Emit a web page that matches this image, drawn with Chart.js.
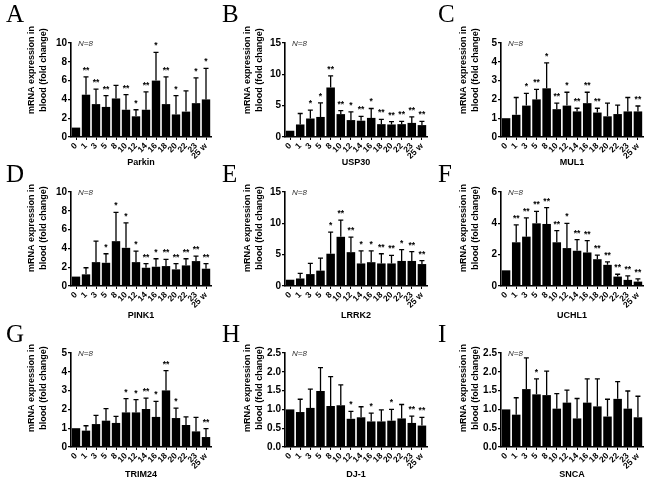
<!DOCTYPE html>
<html>
<head>
<meta charset="utf-8">
<script src="https://cdn.jsdelivr.net/npm/chart.js@4.4.0/dist/chart.umd.min.js"></script>
<style>
  body { margin: 0; background: #fff; width: 648px; height: 480px; position: relative; overflow: hidden; }
  canvas { position: absolute; }
</style>
</head>
<body>
<script>
// weeks after treatment
const weeks = ['0', '1', '3', '5', '8', '10', '12', '14', '16', '18', '20', '22', '23', '25 w'];

const parkinMean  = [1.0, 4.5, 3.5, 3.2, 4.1, 2.9, 2.2, 2.9, 6.0, 3.5, 2.4, 2.7, 3.6, 4.0];
const parkinSd    = [0, 1.9, 1.6, 1.2, 1.4, 1.6, 0.7, 1.9, 3.0, 2.9, 2.0, 2.2, 2.7, 3.3];
const parkinStars = ['', '**', '**', '**', '', '**', '*', '**', '*', '**', '*', '', '*', '*'];

const usp30Mean  = [1.0, 2.0, 2.95, 3.2, 7.9, 3.65, 2.7, 2.6, 3.05, 2.05, 2.0, 2.05, 2.25, 1.9];
const usp30Sd    = [0, 1.75, 1.35, 2.25, 1.85, 0.55, 1.3, 0.7, 1.5, 0.75, 0.45, 0.45, 0.95, 0.6];
const usp30Stars = ['', '', '*', '*', '**', '**', '*', '**', '*', '**', '**', '**', '**', '**'];

const mul1Mean  = [1.0, 1.18, 1.67, 2.0, 2.59, 1.48, 1.67, 1.36, 1.8, 1.3, 1.1, 1.22, 1.36, 1.36];
const mul1Sd    = [0, 0.92, 0.65, 0.53, 1.35, 0.32, 0.71, 0.17, 0.58, 0.23, 0.7, 0.48, 0.74, 0.29];
const mul1Stars = ['', '', '*', '**', '*', '**', '*', '**', '**', '**', '', '', '', '**'];

const pink1Mean  = [1.0, 1.24, 2.54, 2.47, 4.77, 4.06, 2.54, 1.94, 2.05, 2.12, 1.77, 2.19, 2.65, 1.84];
const pink1Sd    = [0, 0.7, 2.23, 0.96, 3.07, 2.65, 1.17, 0.43, 0.85, 0.71, 0.6, 0.71, 0.53, 0.53];
const pink1Stars = ['', '', '', '*', '*', '*', '*', '**', '*', '**', '**', '**', '**', '**'];

const lrrk2Mean  = [1.0, 1.2, 1.9, 2.45, 5.15, 7.85, 5.4, 3.6, 3.8, 3.6, 3.6, 4.0, 4.0, 3.5];
const lrrk2Sd    = [0, 0.8, 1.7, 2.0, 3.45, 2.65, 2.4, 2.0, 1.8, 1.55, 1.3, 1.8, 1.5, 0.55];
const lrrk2Stars = ['', '', '', '', '*', '**', '**', '*', '*', '**', '**', '*', '**', '**'];

const uchl1Mean  = [1.0, 2.79, 3.15, 4.0, 3.96, 2.79, 2.42, 2.25, 2.14, 1.71, 1.35, 0.6, 0.39, 0.28];
const uchl1Sd    = [0, 1.11, 1.2, 0.76, 1.04, 0.75, 1.58, 0.71, 0.76, 0.26, 0.19, 0.15, 0.25, 0.17];
const uchl1Stars = ['', '**', '**', '**', '**', '**', '*', '**', '**', '**', '**', '**', '**', '**'];

const trim24Mean  = [1.0, 0.87, 1.22, 1.4, 1.28, 1.84, 1.84, 2.02, 1.6, 3.01, 1.54, 1.17, 0.83, 0.53];
const trim24Sd    = [0, 0.26, 0.46, 0.64, 0.35, 0.73, 0.68, 0.58, 0.83, 1.05, 0.53, 0.43, 0.75, 0.45];
const trim24Stars = ['', '', '', '', '', '*', '*', '**', '*', '**', '*', '', '', '**'];

const dj1Mean  = [1.0, 0.93, 1.04, 1.49, 1.09, 1.11, 0.75, 0.79, 0.68, 0.68, 0.7, 0.76, 0.64, 0.57];
const dj1Sd    = [0, 0.34, 0.5, 0.62, 0.78, 0.54, 0.2, 0.28, 0.22, 0.31, 0.3, 0.37, 0.18, 0.22];
const dj1Stars = ['', '', '', '', '', '', '*', '', '*', '', '*', '', '**', '**'];

const sncaMean  = [1.0, 0.86, 1.54, 1.4, 1.38, 1.02, 1.18, 0.76, 1.18, 1.08, 0.81, 1.28, 1.02, 0.79];
const sncaSd    = [0, 0.45, 0.83, 0.41, 0.64, 0.4, 0.33, 0.53, 0.63, 0.73, 0.46, 0.46, 0.47, 0.56];
const sncaStars = ['', '', '', '*', '', '', '', '', '', '', '', '', '', ''];

const panels = [
  { letter: 'A', gene: 'Parkin', mean: parkinMean, sd: parkinSd, stars: parkinStars, max: 10, step: 2 },
  { letter: 'B', gene: 'USP30',  mean: usp30Mean,  sd: usp30Sd,  stars: usp30Stars,  max: 15, step: 5 },
  { letter: 'C', gene: 'MUL1',   mean: mul1Mean,   sd: mul1Sd,   stars: mul1Stars,   max: 5,  step: 1 },
  { letter: 'D', gene: 'PINK1',  mean: pink1Mean,  sd: pink1Sd,  stars: pink1Stars,  max: 10, step: 2 },
  { letter: 'E', gene: 'LRRK2',  mean: lrrk2Mean,  sd: lrrk2Sd,  stars: lrrk2Stars,  max: 15, step: 5 },
  { letter: 'F', gene: 'UCHL1',  mean: uchl1Mean,  sd: uchl1Sd,  stars: uchl1Stars,  max: 6,  step: 2 },
  { letter: 'G', gene: 'TRIM24', mean: trim24Mean, sd: trim24Sd, stars: trim24Stars, max: 5,  step: 1 },
  { letter: 'H', gene: 'DJ-1',   mean: dj1Mean,    sd: dj1Sd,    stars: dj1Stars,    max: 2.5, step: 0.5 },
  { letter: 'I', gene: 'SNCA',   mean: sncaMean,   sd: sncaSd,   stars: sncaStars,   max: 2.5, step: 0.5 }
];

// page layout (pixels)
const colLeft = [0, 216, 432];
const plotLeft = [71, 69, 69];
const rows = [
  { top: 0,   h: 180, plotTop: 43,  plotBottom: 137, geneY: 163, titleY: 70 },
  { top: 160, h: 180, plotTop: 192, plotBottom: 286, geneY: 316, titleY: 228 },
  { top: 320, h: 160, plotTop: 353, plotBottom: 447, geneY: 475, titleY: 388 }
];

Chart.defaults.font.family = '"Liberation Sans", Arial, sans-serif';
Chart.defaults.color = '#000';

const extras = {
  id: 'extras',
  afterDatasetsDraw(chart, args, o) {
    const p = o.panel, ctx = chart.ctx;
    const xs = chart.scales.x, ys = chart.scales.y;
    ctx.save();
    ctx.strokeStyle = '#000';
    ctx.lineWidth = 1.3;
    p.mean.forEach((m, i) => {
      if (!p.sd[i]) return;
      const cx = xs.getPixelForValue(i);
      const y0 = ys.getPixelForValue(m), y1 = ys.getPixelForValue(m + p.sd[i]);
      ctx.beginPath();
      ctx.moveTo(cx, y0); ctx.lineTo(cx, y1);
      ctx.moveTo(cx - 2.5, y1); ctx.lineTo(cx + 2.5, y1);
      ctx.stroke();
    });
    // significance marks
    ctx.fillStyle = '#000';
    ctx.font = 'bold 8.5px "Liberation Sans"';
    ctx.textAlign = 'center';
    ctx.textBaseline = 'alphabetic';
    p.stars.forEach((s, i) => {
      if (!s) return;
      const cx = xs.getPixelForValue(i);
      const yt = ys.getPixelForValue(p.mean[i] + p.sd[i]);
      ctx.fillText(s, cx, yt - 4);
    });
    ctx.restore();
  },
  afterDraw(chart, args, o) {
    const ctx = chart.ctx, a = chart.chartArea;
    ctx.save();
    ctx.fillStyle = '#000';
    // panel letter
    ctx.font = '25px "Liberation Serif"';
    ctx.textAlign = 'left';
    ctx.textBaseline = 'alphabetic';
    ctx.fillText(o.panel.letter, 6, 22);
    // N=8
    ctx.font = 'italic 8px "Liberation Sans"';
    ctx.fillStyle = '#333';
    ctx.textBaseline = 'middle';
    ctx.fillText('N=8', a.left + 7, a.top + 1);
    // y axis title, two lines
    ctx.fillStyle = '#000';
    ctx.font = 'bold 9px "Liberation Sans"';
    ctx.textAlign = 'center';
    ['mRNA expression in', 'blood (fold change)'].forEach((t, k) => {
      ctx.save();
      ctx.translate(32 + k * 11.5, o.titleY);
      ctx.rotate(-Math.PI / 2);
      ctx.fillText(t, 0, 0);
      ctx.restore();
    });
    ctx.restore();
  }
};

panels.forEach((p, idx) => {
  const col = idx % 3, row = rows[Math.floor(idx / 3)];
  const cv = document.createElement('canvas');
  cv.width = 216; cv.height = row.h;
  cv.style.left = colLeft[col] + 'px';
  cv.style.top = row.top + 'px';
  document.body.appendChild(cv);

  const xHeight = row.h - (row.plotBottom - row.top);
  const geneLine = 9 * 1.2;
  const genePad = Math.max(0, row.h - (row.geneY - row.top) - geneLine / 2);

  new Chart(cv, {
    type: 'bar',
    data: {
      labels: weeks,
      datasets: [{
        data: p.mean,
        backgroundColor: '#000',
        borderWidth: 0,
        barPercentage: 0.84,
        categoryPercentage: 1.0
      }]
    },
    options: {
      responsive: false,
      animation: false,
      layout: { padding: { top: row.plotTop - row.top, right: 5, left: 0, bottom: 0 } },
      plugins: {
        legend: { display: false },
        tooltip: { enabled: false },
        extras: { panel: p, titleY: row.titleY - row.top }
      },
      scales: {
        x: {
          grid: { display: true, drawOnChartArea: false, offset: false, color: '#000', lineWidth: 1, tickLength: 3 },
          border: { color: '#000', width: 1.6 },
          ticks: { font: { size: 8.5, weight: 'bold' }, minRotation: 45, maxRotation: 45, padding: 1, autoSkip: false },
          title: { display: true, text: p.gene, font: { size: 9, weight: 'bold' }, padding: { top: 0, bottom: genePad } },
          afterFit: s => { s.height = xHeight; s.paddingLeft = 0; s.paddingRight = 0; }
        },
        y: {
          min: 0,
          max: p.max,
          grid: { display: true, drawOnChartArea: false, color: '#000', lineWidth: 1.2, tickLength: 3 },
          border: { color: '#000', width: 1.6 },
          ticks: {
            stepSize: p.step,
            font: { size: 10, weight: 'bold' },
            padding: 1,
            callback: v => p.step < 1 ? v.toFixed(1) : v
          },
          afterFit: s => { s.width = plotLeft[col]; }
        }
      }
    },
    plugins: [extras]
  });
});
</script>
</body>
</html>
